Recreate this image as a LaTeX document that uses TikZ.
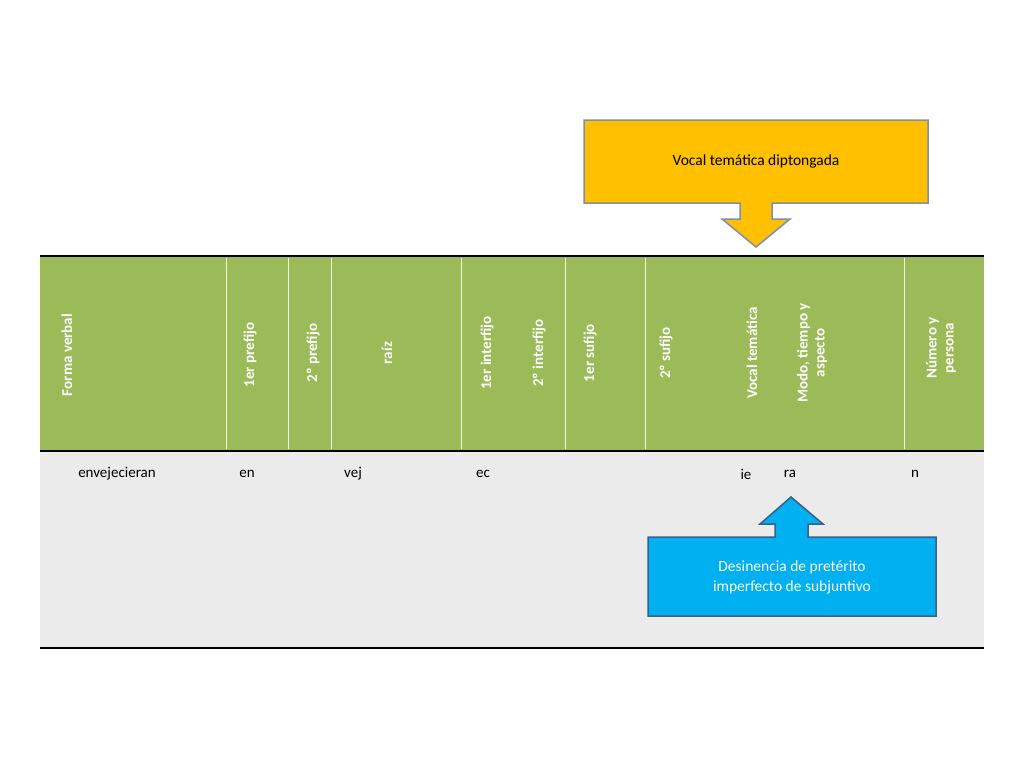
\documentclass[tikz,border=0pt]{standalone}
\usepackage{fontspec}
\setmainfont{Carlito}
\begin{document}
\begin{tikzpicture}[x=1pt,y=-1pt,
 hd/.style={rotate=90,text=white,font=\bfseries\fontsize{15}{17}\selectfont,align=center},
 bd/.style={font=\fontsize{15}{17}\selectfont},
 call/.style={draw=#1,line width=1.2pt,font=\fontsize{15.5}{20}\selectfont,align=center}]
\useasboundingbox (0,0) rectangle (1024,768);
\fill[white] (0,0) rectangle (1024,768);
\fill[green!40!olive!70!yellow,fill=black!0] (0,0) rectangle (1,1);
\definecolor{hg}{HTML}{9BBB59}\definecolor{bg}{HTML}{EBEBEB}
\definecolor{yl}{HTML}{FFC000}\definecolor{bl}{HTML}{00B0F0}
\definecolor{ed}{HTML}{7F8FA9}\definecolor{be}{HTML}{3A5F8A}
\fill[hg] (40,256) rectangle (984,451);
\fill[bg] (40,451) rectangle (984,648);
\foreach \x in {226,288,331,461,565,645,904}
  \draw[white!85!hg,line width=0.6pt] (\x,258) -- (\x,449);
\draw[line width=2pt] (40,256) -- (984,256);
\draw[line width=2.5pt] (40,451) -- (984,451);
\draw[line width=2pt] (40,648) -- (984,648);
\node[hd] (h1) at (67,355) {Forma verbal};
\node[hd] (h2) at (250,355) {1er prefijo};
\node[hd] (h3) at (313,353) {2º prefijo};
\node[hd] (h4) at (387,353) {raíz};
\node[hd] (h5) at (487,353) {1er interfijo};
\node[hd] (h6) at (539,353) {2º interfijo};
\node[hd] (h7) at (590,353) {1er sufijo};
\node[hd] (h8) at (666,353) {2º sufijo};
\node[hd] (h9) at (752,353) {Vocal temática};
\node[hd] (h10) at (812,353) {Modo, tiempo y\\aspecto};
\node[hd] (h11) at (941,348) {Número y\\persona};
\node[bd] (b1) at (117,474) {envejecieran};
\node[bd] (b2) at (247,474) {en};
\node[bd] (b3) at (353,474) {vej};
\node[bd] (b4) at (483,474) {ec};
\node[bd] (b5) at (746,474) {ie};
\node[bd] (b6) at (790,474) {ra};
\node[bd] (b7) at (915,474) {n};
\draw[ed,line width=1.5pt,fill=yl] (584,120) -- (928,120) -- (928,203) -- (772,203) -- (772,219) -- (790,219) -- (756,247) -- (722,219) -- (740,219) -- (740,203) -- (584,203) -- cycle;
\node[font=\fontsize{15.5}{20}\selectfont] (y) at (756,161) {Vocal temática diptongada};
\draw[be,line width=1.5pt,fill=bl] (648,537) -- (775,537) -- (775,524) -- (760,524) -- (791,497) -- (823,524) -- (808,524) -- (808,537) -- (936,537) -- (936,616) -- (648,616) -- cycle;
\node[font=\fontsize{15.5}{20}\selectfont,text=white,align=center] (z) at (792,577) {Desinencia de pretérito\\imperfecto de subjuntivo};
\end{tikzpicture}
\end{document}
